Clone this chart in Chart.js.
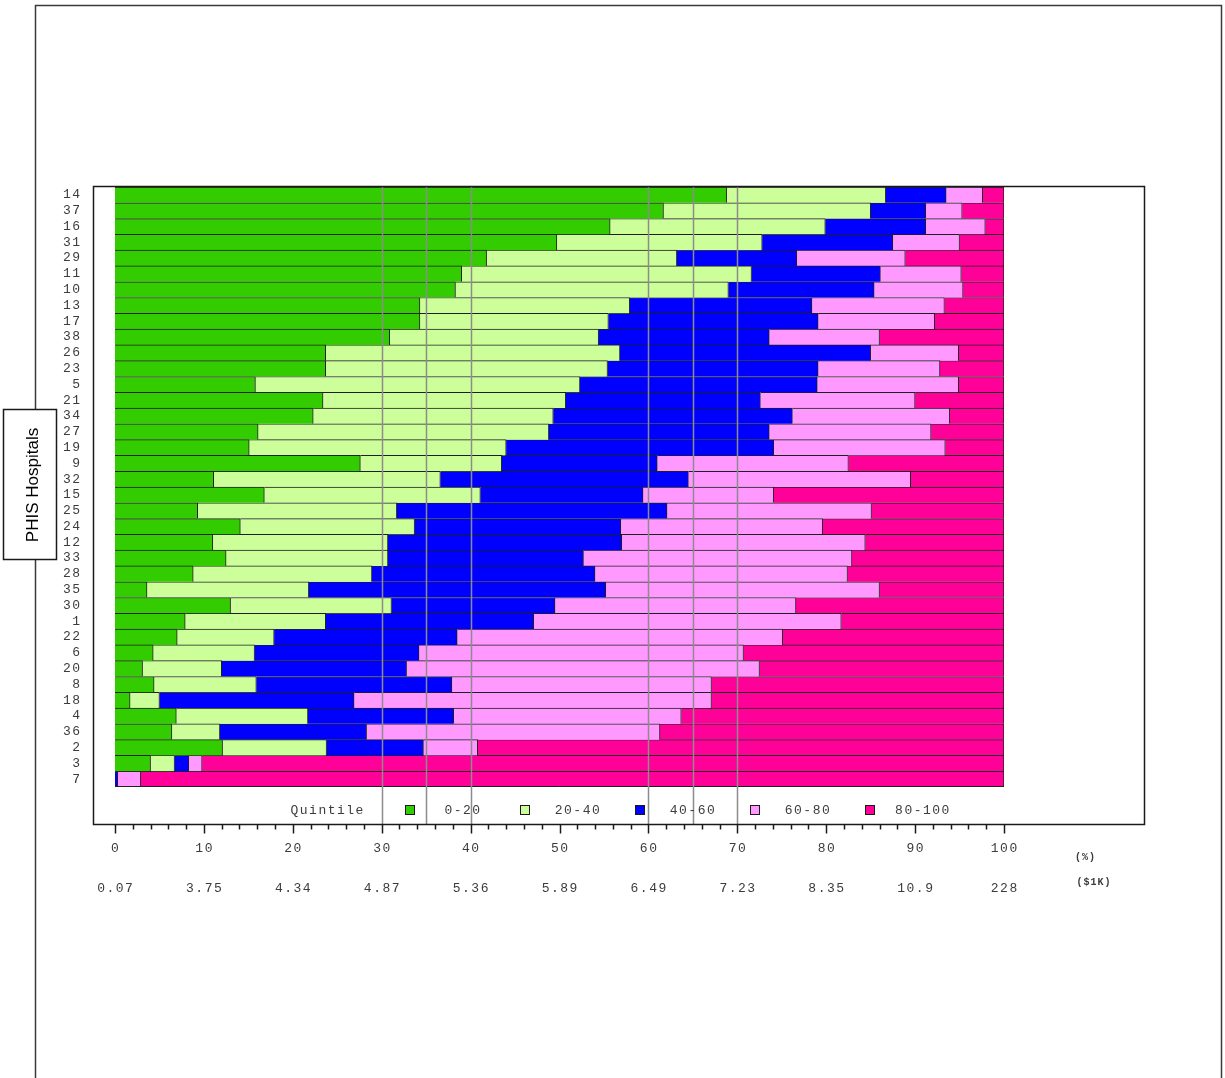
<!DOCTYPE html>
<html>
<head>
<meta charset="utf-8">
<title>PHIS Hospitals by quintile</title>
<script src="https://cdn.jsdelivr.net/npm/chart.js@4.4.1/dist/chart.umd.min.js"></script>
<style>
  html, body { margin: 0; padding: 0; background: #ffffff; }
  #wrap { width: 1225px; height: 1078px; position: relative; }
</style>
</head>
<body>
<div id="wrap"><canvas id="chart" width="1225" height="1078"></canvas></div>
<script>
// Hospitals, top to bottom
const hospitals = ['14','37','16','31','29','11','10','13','17','38','26','23','5','21','34','27','19','9',
  '32','15','25','24','12','33','28','35','30','1','22','6','20','8','18','4','36','2','3','7'];

// Share (%) of each hospital falling in each quintile
const q0_20   = [68.8,61.7,55.7,49.7,41.8,39.0,38.3,34.3,34.3,30.9,23.7,23.7,15.8,23.4,22.3,16.1,15.1,27.6,
  11.1,16.8,9.3,14.1,11.0,12.5,8.8,3.6,13.0,7.9,7.0,4.3,3.1,4.4,1.7,6.9,6.4,12.1,4.0,0.0];
const q20_40  = [17.9,23.3,24.2,23.1,21.4,32.6,30.7,23.6,21.2,23.5,33.1,31.7,36.5,27.3,27.0,32.7,28.9,15.9,
  25.5,24.3,22.4,19.6,19.7,18.2,20.1,18.2,18.1,15.8,10.9,11.4,8.9,11.5,3.3,14.8,5.4,11.7,2.7,0.0];
const q40_60  = [6.8,6.2,11.3,14.7,13.5,14.5,16.4,20.5,23.6,19.2,28.2,23.7,26.7,21.9,26.9,24.8,30.1,17.5,
  27.9,18.3,30.4,23.2,26.3,22.0,25.1,33.4,18.4,23.4,20.6,18.5,20.8,22.0,21.9,16.4,16.5,10.9,1.6,0.3];
const q60_80  = [4.1,4.1,6.7,7.5,12.2,9.1,10.0,14.9,13.1,12.4,9.9,13.7,15.9,17.4,17.7,18.2,19.3,21.5,
  25.0,14.7,23.0,22.7,27.4,30.2,28.4,30.8,27.1,34.6,36.6,36.5,39.7,29.2,40.2,25.6,33.0,6.1,1.5,2.6];
const q80_100 = [2.4,4.7,2.1,5.0,11.1,4.8,4.6,6.7,7.8,14.0,5.1,7.2,5.1,10.0,6.1,8.2,6.6,17.5,
  10.5,25.9,14.9,20.4,15.6,17.1,17.6,14.0,23.4,18.3,24.9,29.3,27.5,32.9,32.9,36.3,38.7,59.2,90.2,97.1];

const quintileNames = ['0-20','20-40','40-60','60-80','80-100'];
const quintileColors = ['#33cc00','#ccff99','#0000ff','#ff99ff','#ff0099'];

// Axis ticks: percentile and the matching dollar amount ($1K)
const pctTicks    = [0,10,20,30,40,50,60,70,80,90,100];
const dollarTicks = ['0.07','3.75','4.34','4.87','5.36','5.89','6.49','7.23','8.35','10.9','228'];
const referencePct = [30,35,40,60,65,70];

const MONO = '"Liberation Mono", "Courier New", monospace';

const series = [q0_20, q20_40, q40_60, q60_80, q80_100];

const decorations = {
  id: 'decorations',
  beforeDraw(chart) {
    const ctx = chart.ctx;
    ctx.save();
    ctx.fillStyle = '#ffffff';
    ctx.fillRect(0, 0, chart.width, chart.height);
    ctx.restore();
  },
  afterDatasetsDraw(chart) {
    const ctx = chart.ctx;
    const xs = chart.scales.x;
    const ys = chart.scales.y;
    const area = chart.chartArea;
    const frameBottom = 824.5;

    ctx.save();
    // bottom edge of the last bar row
    ctx.strokeStyle = '#1f1f1f';
    ctx.lineWidth = 1;
    ctx.beginPath();
    ctx.moveTo(area.left, Math.round(area.bottom) - 0.5);
    ctx.lineTo(area.right, Math.round(area.bottom) - 0.5);
    ctx.stroke();

    // reference percentile lines
    ctx.strokeStyle = '#8c8c8c';
    ctx.lineWidth = 1.5;
    referencePct.forEach(v => {
      const x = Math.round(xs.getPixelForValue(v)) + 0.5;
      ctx.beginPath();
      ctx.moveTo(x, area.top);
      ctx.lineTo(x, frameBottom);
      ctx.stroke();
    });

    // outer page frame
    ctx.strokeStyle = '#3a3a3a';
    ctx.lineWidth = 1.5;
    ctx.beginPath();
    ctx.moveTo(35.5, 1078);
    ctx.lineTo(35.5, 5.5);
    ctx.lineTo(1221.5, 5.5);
    ctx.lineTo(1221.5, 1078);
    ctx.stroke();

    // inner graph frame
    ctx.strokeStyle = '#1a1a1a';
    ctx.strokeRect(93.5, 186.5, 1051, 638);

    // tick marks under the frame
    for (let v = 0; v <= 100; v += 2) {
      const x = Math.round(xs.getPixelForValue(v)) + 0.5;
      const major = v % 10 === 0;
      ctx.beginPath();
      ctx.moveTo(x, frameBottom);
      ctx.lineTo(x, frameBottom + (major ? 9 : 5));
      ctx.stroke();
    }

    // hospital labels
    ctx.fillStyle = '#3c3c3c';
    ctx.font = '13px ' + MONO;
    ctx.letterSpacing = '1.5px';
    ctx.textAlign = 'right';
    ctx.textBaseline = 'middle';
    hospitals.forEach((h, i) => {
      ctx.fillText(h, 81.5, ys.getPixelForValue(i));
    });

    // tick labels
    ctx.textAlign = 'center';
    pctTicks.forEach((v, i) => {
      const x = xs.getPixelForValue(v) + 0.75;
      ctx.fillText(String(v), x, 849);
      ctx.fillText(dollarTicks[i], x, 889);
    });
    ctx.font = 'bold 10px ' + MONO;
    ctx.letterSpacing = '1px';
    ctx.fillText('(%)', 1085.5, 857);
    ctx.fillText('($1K)', 1094, 882);

    // legend
    ctx.font = '13px ' + MONO;
    ctx.letterSpacing = '1.5px';
    ctx.textAlign = 'left';
    ctx.fillText('Quintile', 290.5, 810.5);
    ctx.textAlign = 'center';
    quintileNames.forEach((name, i) => {
      const bx = 410 + i * 115;
      ctx.fillStyle = quintileColors[i];
      ctx.fillRect(bx - 4, 806, 8, 8);
      ctx.strokeStyle = '#1a1a1a';
      ctx.lineWidth = 1;
      ctx.strokeRect(bx - 4.5, 805.5, 9, 9);
      ctx.fillStyle = '#3c3c3c';
      ctx.fillText(name, bx + 53, 810.5);
    });

    // vertical axis title box
    ctx.letterSpacing = '0px';
    ctx.fillStyle = '#ffffff';
    ctx.fillRect(3.5, 409.5, 53, 150);
    ctx.strokeStyle = '#1a1a1a';
    ctx.lineWidth = 1.5;
    ctx.strokeRect(3.5, 409.5, 53, 150);
    ctx.translate(33, 485);
    ctx.rotate(-Math.PI / 2);
    ctx.fillStyle = '#000000';
    ctx.font = '17px "Liberation Sans", Arial, sans-serif';
    ctx.textAlign = 'center';
    ctx.textBaseline = 'middle';
    ctx.fillText('PHIS Hospitals', 0, 0);
    ctx.restore();
  }
};

new Chart(document.getElementById('chart'), {
  type: 'bar',
  data: {
    labels: hospitals,
    datasets: series.map((values, i) => ({
      label: quintileNames[i],
      data: values,
      backgroundColor: quintileColors[i],
      borderColor: '#1f1f1f',
      borderWidth: { top: 1, right: 1, bottom: 0, left: 0 },
      borderSkipped: false,
      barPercentage: 1,
      categoryPercentage: 1
    }))
  },
  options: {
    indexAxis: 'y',
    responsive: false,
    devicePixelRatio: 1,
    animation: false,
    layout: { padding: { left: 115, right: 221, top: 187, bottom: 291 } },
    plugins: { legend: { display: false }, tooltip: { enabled: false }, title: { display: false } },
    scales: {
      x: { stacked: true, min: 0, max: 100, display: false },
      y: { stacked: true, display: false }
    }
  },
  plugins: [decorations]
});
</script>
</body>
</html>
